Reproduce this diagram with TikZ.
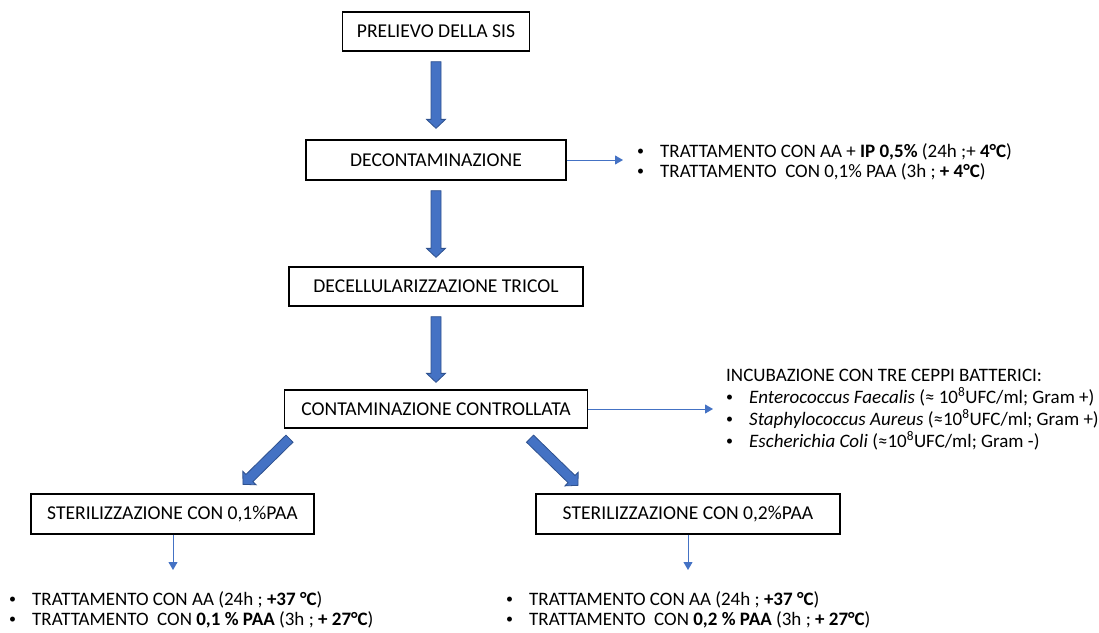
\documentclass[tikz,border=0pt]{standalone}
\usepackage{fontspec}
\setmainfont{Carlito}
\usetikzlibrary{arrows.meta,calc}
\definecolor{afill}{HTML}{4472C4}
\definecolor{aedge}{HTML}{2F528F}
\newcommand{\mybul}{\makebox[23pt][l]{\raisebox{1.5pt}{\fontsize{14}{14}\selectfont•}}}
\begin{document}
\begin{tikzpicture}[x=1pt,y=-1pt,
  font=\fontsize{19}{22}\selectfont,
  box/.style={draw=black, line width=1.3pt, inner sep=0pt, align=center, font=\fontsize{19.6}{22}\selectfont},
  txt/.style={anchor=base west, inner sep=0pt},
  thinarrow/.style={draw=afill, line width=0.9pt, -{Triangle[length=8pt,width=9pt]}},
  blockarrow/.style={draw=aedge, fill=afill, line width=0.8pt, line join=miter,
    to path={
      let \p1=(\tikztostart), \p2=(\tikztotarget),
          \n1={veclen(\x2-\x1,\y2-\y1)},
          \n2={(\x2-\x1)/\n1}, \n3={(\y2-\y1)/\n1},
          \p3=({\x2-9*\n2},{\y2-9*\n3})
      in
      ({\x1-5*\n3},{\y1+5*\n2})
      -- ({\x3-5*\n3},{\y3+5*\n2})
      -- ({\x3-9.5*\n3},{\y3+9.5*\n2})
      -- (\p2)
      -- ({\x3+9.5*\n3},{\y3-9.5*\n2})
      -- ({\x3+5*\n3},{\y3-5*\n2})
      -- ({\x1+5*\n3},{\y1-5*\n2})
      -- cycle}}]
\useasboundingbox (0,0) rectangle (1099,632);

% boxes
\node[box, minimum width=187pt, minimum height=39pt] (p) at (436,31.5) {PRELIEVO DELLA SIS};
\node[box, minimum width=260pt, minimum height=40pt] (dec) at (436,160) {DECONTAMINAZIONE};
\node[box, minimum width=294pt, minimum height=39pt] (dect) at (436,286.5) {DECELLULARIZZAZIONE TRICOL};
\node[box, minimum width=303pt, minimum height=38pt] (cont) at (436,409) {CONTAMINAZIONE CONTROLLATA};
\node[box, minimum width=283pt, minimum height=40pt] (s1) at (172.5,514) {STERILIZZAZIONE CON 0,1\%PAA};
\node[box, minimum width=304pt, minimum height=40pt] (s2) at (688,514) {STERILIZZAZIONE CON 0,2\%PAA};

% block arrows
\draw[blockarrow] ($(p.south)+(0,10)$) to ($(dec.north)+(0,-11)$);
\draw[blockarrow] ($(dec.south)+(0,10)$) to ($(dect.north)+(0,-9)$);
\draw[blockarrow] ($(dect.south)+(0,10)$) to ($(cont.north)+(0,-7)$);
\draw[blockarrow] ($(cont.south)+(-146.5,10)$) to ($(s1.north)+(70.5,-9)$);
\draw[blockarrow] ($(cont.south)+(94,10)$) to ($(s2.north)+(-110,-8)$);

% thin arrows
\coordinate (decE) at (623,160);
\coordinate (contE) at (713,409);
\coordinate (s1E) at (173,570);
\coordinate (s2E) at (688,570);
\draw[thinarrow] (dec.east) -- (decE);
\draw[thinarrow] (cont.east) -- (contE);
\draw[thinarrow] (s1.south -| s1E) -- (s1E);
\draw[thinarrow] (s2.south) -- (s2E);

% decontamination list
\node[txt] (d1) at (637,157) {\mybul TRATTAMENTO CON AA + \textbf{IP 0,5\%} (24h ;+ \textbf{4°C})};
\node[txt] (d2) at (637,177) {\mybul TRATTAMENTO\ \ CON 0,1\% PAA (3h ; \textbf{+ 4°C})};

% incubation list
\node[txt] (i0) at (726,381) {INCUBAZIONE CON TRE CEPPI BATTERICI:};
\node[txt] (i1) at (726,403) {\mybul\textit{Enterococcus Faecalis} (≈ 10\textsuperscript{8}UFC/ml; Gram +)};
\node[txt] (i2) at (726,425) {\mybul\textit{Staphylococcus Aureus} (≈10\textsuperscript{8}UFC/ml; Gram +)};
\node[txt] (i3) at (726,447) {\mybul\textit{Escherichia Coli} (≈10\textsuperscript{8}UFC/ml; Gram -)};

% bottom left list
\node[txt] (l1) at (9,605) {\mybul TRATTAMENTO CON AA (24h ; \textbf{+37 °C})};
\node[txt] (l2) at (9,625) {\mybul TRATTAMENTO\ \ CON \textbf{0,1 \% PAA} (3h ; \textbf{+ 27°C})};

% bottom right list
\node[txt] (r1) at (506,605) {\mybul TRATTAMENTO CON AA (24h ; \textbf{+37 °C})};
\node[txt] (r2) at (506,625) {\mybul TRATTAMENTO\ \ CON \textbf{0,2 \% PAA} (3h ; \textbf{+ 27°C})};
\end{tikzpicture}
\end{document}
